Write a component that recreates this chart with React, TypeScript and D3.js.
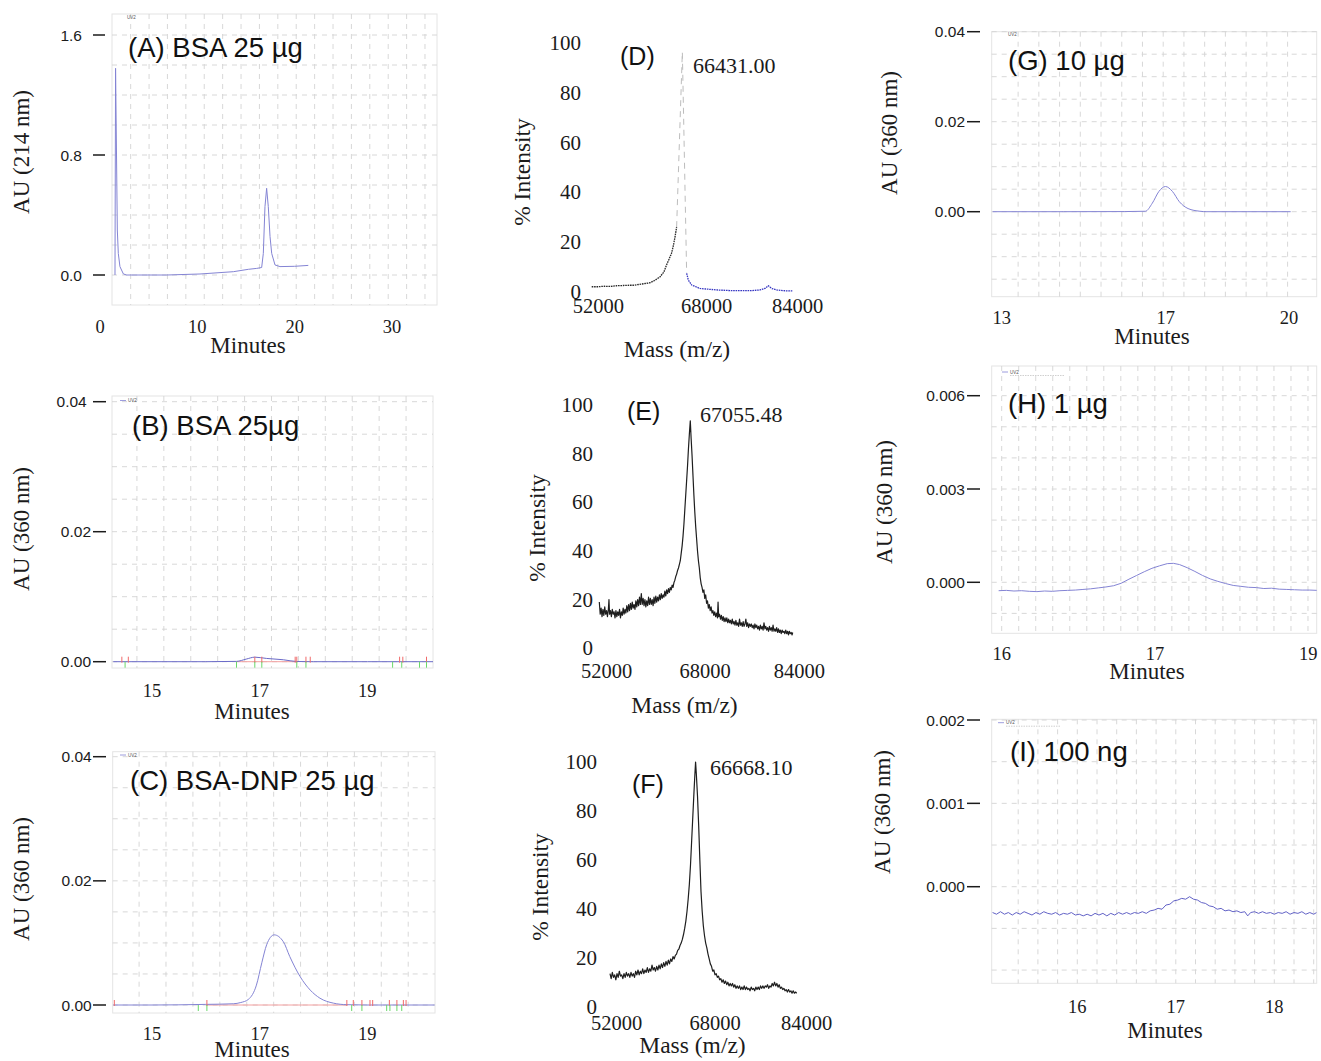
import React from "react";
import * as d3 from "d3";

type Pt = [number, number];

// ---------- HPLC chromatograms (minutes, AU) ----------
const traceA: Pt[] = [
  [1.54, 0], [1.6, 1.378], [1.68, 0.9], [1.78, 0.3], [1.88, 0.144], [2.05, 0.056], [2.4, 0.007], [2.74, 0],
  [4, 0], [6.85, 0], [10.27, 0.0067], [13.7, 0.022], [15.25, 0.038], [16.1, 0.044], [16.61, 0.05],
  [16.78, 0.144], [16.95, 0.456], [17.12, 0.578], [17.29, 0.456], [17.47, 0.256], [17.64, 0.144],
  [17.98, 0.067], [18.49, 0.056], [20, 0.058], [21.4, 0.064],
];

const traceB: Pt[] = [
  [14.28, 0], [15, 0], [16, 0], [16.57, 0.00005], [16.75, 0.0004], [16.91, 0.0007], [17.13, 0.0005],
  [17.44, 0.0003], [17.69, 0.00003], [18, 0], [19, 0], [20.22, 0],
];
const redB = [14.44, 14.56, 16.91, 17.04, 17.66, 17.69, 17.86, 17.94, 19.6, 19.66, 20.1];
const greenB = [14.5, 16.57, 16.91, 17.04, 17.69, 17.86, 19.47, 19.64, 19.97, 20.1];

const traceC: Pt[] = [
  [14.28, 0], [15, 0], [16, 0.0001], [16.51, 0.0002], [16.65, 0.0004], [16.79, 0.0009], [16.94, 0.0032],
  [17.04, 0.0068], [17.13, 0.0097], [17.27, 0.0113], [17.44, 0.0102], [17.56, 0.0078], [17.75, 0.0046],
  [17.94, 0.0024], [18.12, 0.0011], [18.37, 0.0003], [18.62, 0.00005], [19, 0], [20.25, 0],
];
const redC = [14.3, 16.02, 18.62, 18.74, 18.9, 19.05, 19.1, 19.41, 19.55, 19.67, 19.72];
const greenC = [15.86, 16.02, 18.71, 18.9, 19.36, 19.42, 19.55, 19.64];

const traceG: Pt[] = [
  [12.78, 0], [14.5, 0], [16.0, 0.00003], [16.5, 0.0001], [16.67, 0.0019], [16.83, 0.0045], [16.99, 0.0056],
  [17.16, 0.0045], [17.33, 0.0022], [17.54, 0.0007], [17.83, 0.0001], [18.0, 0], [19, 0], [20.04, 0],
];

const traceH: Pt[] = [
  [15.98, -0.00027], [16.03, -0.00026], [16.08, -0.00028], [16.13, -0.00027], [16.18, -0.00029],
  [16.23, -0.0003], [16.28, -0.00028], [16.33, -0.00029], [16.38, -0.00027], [16.43, -0.00026],
  [16.48, -0.00025], [16.53, -0.00023], [16.58, -0.00021], [16.63, -0.00018], [16.68, -0.00015],
  [16.73, -0.00011], [16.78, -0.00003], [16.83, 0.0001], [16.88, 0.00022], [16.93, 0.00034],
  [16.98, 0.00045], [17.03, 0.00053], [17.08, 0.0006], [17.12, 0.00061], [17.16, 0.00057],
  [17.21, 0.00047], [17.26, 0.00035], [17.31, 0.00022], [17.36, 0.00011], [17.41, 0.00003],
  [17.46, -0.00004], [17.51, -0.0001], [17.56, -0.00013], [17.61, -0.00016], [17.66, -0.00017],
  [17.71, -0.0002], [17.76, -0.00019], [17.81, -0.00022], [17.86, -0.00023], [17.91, -0.00024],
  [17.96, -0.00025], [18.01, -0.00025], [18.06, -0.00026],
];

const traceI: Pt[] = [
  [15.14, -0.00031], [15.18, -0.00033], [15.22, -0.0003], [15.26, -0.00033], [15.3, -0.00031],
  [15.34, -0.00034], [15.38, -0.00031], [15.42, -0.00033], [15.46, -0.0003], [15.5, -0.00032],
  [15.54, -0.00034], [15.58, -0.00031], [15.62, -0.00033], [15.66, -0.0003], [15.7, -0.00032],
  [15.74, -0.00033], [15.78, -0.00031], [15.82, -0.00034], [15.86, -0.00032], [15.9, -0.00033],
  [15.94, -0.00031], [15.98, -0.00034], [16.02, -0.00033], [16.06, -0.00035], [16.1, -0.00033],
  [16.14, -0.00035], [16.18, -0.00032], [16.22, -0.00034], [16.26, -0.00032], [16.3, -0.00035],
  [16.34, -0.00032], [16.38, -0.00034], [16.42, -0.00031], [16.46, -0.00033], [16.5, -0.00031],
  [16.54, -0.00033], [16.58, -0.00031], [16.62, -0.00032], [16.66, -0.0003], [16.7, -0.00032],
  [16.74, -0.00029], [16.78, -0.00028], [16.82, -0.00026], [16.86, -0.00027], [16.9, -0.00022],
  [16.94, -0.00021], [16.98, -0.00017], [17.02, -0.00016], [17.06, -0.00014], [17.1, -0.00015],
  [17.14, -0.00012], [17.18, -0.00015], [17.22, -0.00016], [17.26, -0.00019], [17.3, -0.0002],
  [17.34, -0.00023], [17.38, -0.00024], [17.42, -0.00027], [17.46, -0.00026], [17.5, -0.00029],
  [17.54, -0.00028], [17.58, -0.0003], [17.62, -0.00029], [17.66, -0.00031], [17.7, -0.0003],
  [17.73, -0.00035], [17.76, -0.00031], [17.8, -0.0003], [17.84, -0.00032], [17.88, -0.0003],
  [17.92, -0.00032], [17.96, -0.00031], [18.0, -0.00033], [18.04, -0.00031], [18.08, -0.00032],
  [18.12, -0.0003], [18.16, -0.00033], [18.2, -0.00031], [18.24, -0.00032], [18.28, -0.0003],
  [18.32, -0.00033], [18.36, -0.00031], [18.4, -0.00033], [18.43, -0.00031],
];

// ---------- MALDI spectra (m/z, % intensity) ----------
const specDLeft: Pt[] = [
  [52000, 2], [53000, 2], [54000, 2.2], [55000, 2.1], [56000, 2.4], [57000, 2.5], [58000, 2.6],
  [58600, 2.6], [59500, 2.9], [60500, 3.3], [61300, 3.6], [62000, 4.5], [62900, 6], [63500, 8],
  [63900, 10.7], [64300, 13], [64700, 15.4], [65000, 18.5], [65260, 22], [65520, 26],
];
const specDPeak: Pt[] = [[65520, 26], [66431.0, 96.5], [67116, 7.4]];
const specDRight: Pt[] = [
  [67116, 7.4], [67381, 4.7], [67912, 2.7], [69239, 1.3], [71892, 0.7], [74545, 0.4], [77198, 0.4],
  [78790, 0.7], [79586, 1.3], [80116, 2.4], [80647, 1.3], [81443, 0.7], [82504, 0.4], [83990, 0.3],
];

const specE: Pt[] = [
  [52000, 19], [52150, 14], [52300, 16.5], [52450, 13], [52600, 16], [52750, 13.5], [52900, 17], [53050, 14],
  [53200, 15.5], [53350, 13], [53500, 16], [53600, 20], [53700, 14], [53850, 15.5], [54000, 13], [54150, 16],
  [54300, 14], [54450, 15], [54600, 12.5], [54750, 15.5], [54900, 13], [55050, 15], [55200, 13.5], [55350, 16],
  [55500, 12.5], [55650, 15], [55800, 13.5], [55950, 16.5], [56100, 14], [56250, 16], [56400, 14.5], [56550, 17.5],
  [56700, 15], [56850, 18], [57000, 15.5], [57150, 18.5], [57300, 16], [57450, 19], [57600, 16.5], [57750, 18],
  [57900, 16], [58050, 19.5], [58200, 17], [58350, 20], [58500, 17.5], [58650, 21], [58800, 18], [58950, 22.5],
  [59100, 18], [59250, 20.5], [59400, 17.5], [59550, 20], [59700, 17], [59850, 19.5], [60000, 17.5], [60150, 21],
  [60300, 18], [60450, 20.5], [60600, 18], [60750, 20], [60900, 17.5], [61050, 21], [61200, 18.5], [61350, 21.5],
  [61500, 19], [61650, 21], [61800, 19.5], [61950, 22], [62100, 20], [62250, 22.5], [62400, 20.5], [62550, 22],
  [62700, 21], [62850, 23.5], [63000, 21.5], [63150, 24], [63300, 22.5], [63450, 24.5], [63600, 23], [63750, 25],
  [63900, 24], [64050, 26], [64200, 25], [64350, 27], [64500, 28], [64650, 29.5], [64800, 30.5], [64950, 32],
  [65100, 33], [65250, 34.5], [65400, 36], [65550, 39], [65700, 42], [65850, 46], [66000, 51], [66150, 57],
  [66300, 63], [66450, 69], [66600, 75], [66750, 82], [66900, 88], [67055.48, 93.5], [67200, 86], [67350, 79],
  [67500, 71], [67650, 63], [67800, 56], [67950, 50], [68100, 45], [68250, 40], [68400, 36], [68550, 33],
  [68700, 29], [68850, 26.5], [69000, 25], [69150, 23], [69300, 24], [69450, 20.5], [69600, 22], [69750, 18.5],
  [69900, 19.5], [70050, 16.5], [70200, 18], [70350, 15.5], [70500, 17], [70650, 14.5], [70800, 15.5], [70950, 13.5],
  [71100, 15], [71250, 13], [71400, 14.5], [71550, 12.5], [71650, 19], [71750, 13], [71900, 14], [72050, 12],
  [72200, 13.5], [72350, 11.5], [72500, 13], [72650, 11], [72800, 12.5], [72950, 11], [73100, 12.5], [73250, 10.5],
  [73400, 12], [73550, 10.5], [73700, 11.5], [73850, 10], [74000, 12], [74150, 10], [74300, 11], [74450, 9.5],
  [74600, 11.5], [74750, 9.5], [74900, 10.5], [75050, 9], [75200, 12], [75350, 9.5], [75500, 10.5], [75650, 9],
  [75800, 11], [75950, 9], [76100, 10], [76250, 12], [76400, 9], [76550, 10.5], [76700, 8.5], [76850, 10],
  [77000, 9], [77150, 10], [77300, 8.5], [77450, 9.5], [77600, 8], [77750, 10], [77900, 8.5], [78050, 9.5],
  [78200, 8], [78350, 9], [78500, 7.5], [78650, 9.5], [78800, 8], [78950, 9], [79100, 7.5], [79250, 10.5],
  [79400, 8], [79550, 9], [79700, 7.5], [79850, 8.5], [80000, 7], [80150, 9], [80300, 7.5], [80450, 8.5],
  [80600, 7], [80750, 9.5], [80900, 7], [81050, 8], [81200, 7], [81350, 8.5], [81500, 6.5], [81650, 8],
  [81800, 6.5], [81950, 7.5], [82100, 6], [82250, 7.5], [82400, 6.5], [82550, 7], [82700, 6], [82850, 7.5],
  [83000, 6], [83150, 7], [83300, 5.5], [83450, 7], [83600, 6], [83750, 6.5], [83900, 5.5], [84000, 6.5],
];

const specF: Pt[] = [
  [52000, 13.5], [52200, 11.5], [52400, 14], [52600, 12], [52800, 13], [53000, 11], [53200, 13.5], [53400, 12],
  [53600, 14.5], [53800, 12.5], [54000, 13], [54200, 11.5], [54400, 13.5], [54600, 12], [54800, 14], [55000, 12.5],
  [55200, 13.5], [55400, 12], [55600, 14], [55800, 12.5], [56000, 13.5], [56200, 12], [56400, 14.5], [56600, 13],
  [56800, 15], [57000, 13], [57200, 14.5], [57400, 13.5], [57600, 15.5], [57800, 13.5], [58000, 15], [58200, 14],
  [58400, 16], [58600, 14], [58800, 15.5], [59000, 14.5], [59200, 17], [59400, 15], [59600, 16], [59800, 14.5],
  [60000, 16.5], [60200, 15], [60400, 17], [60600, 15.5], [60800, 17.5], [61000, 16], [61200, 18], [61400, 16.5],
  [61600, 18.5], [61800, 17], [62000, 19], [62200, 17.5], [62400, 19.5], [62600, 18.5], [62800, 20.5], [63000, 19.5],
  [63200, 21], [63400, 21.5], [63600, 23], [63800, 23.5], [64000, 25], [64200, 26], [64400, 27.5], [64600, 29.5],
  [64800, 32], [65000, 35], [65200, 39], [65400, 44], [65600, 50], [65800, 58], [66000, 68], [66200, 78],
  [66400, 88], [66550, 95], [66668.1, 100], [66800, 95], [67000, 86], [67200, 74], [67400, 60], [67600, 47],
  [67800, 39], [68000, 33], [68200, 29], [68400, 26], [68600, 24], [68800, 21.5], [69000, 19.5], [69200, 17.5],
  [69400, 16.5], [69600, 14.5], [69800, 15], [70000, 13], [70200, 13.5], [70400, 12], [70600, 12.5], [70800, 11],
  [71000, 11.5], [71200, 10], [71400, 11], [71600, 9.5], [71800, 10.5], [72000, 9], [72200, 10], [72400, 8.5],
  [72600, 9.5], [72800, 8.5], [73000, 9.5], [73200, 8], [73400, 9], [73600, 7.5], [73800, 8.5], [74000, 7.5],
  [74200, 8.5], [74400, 7], [74600, 8], [74800, 7], [75000, 8.5], [75200, 7], [75400, 8], [75600, 7],
  [75800, 7.5], [76000, 6.5], [76200, 8], [76400, 7], [76600, 7.5], [76800, 6.5], [77000, 8], [77200, 7],
  [77400, 8], [77600, 7], [77800, 8.5], [78000, 7.5], [78200, 8.5], [78400, 7.5], [78600, 8.5], [78800, 8],
  [79000, 9], [79200, 7.5], [79400, 8.5], [79600, 8], [79800, 9.5], [80000, 8.5], [80200, 10], [80400, 8.5],
  [80600, 9.5], [80800, 8], [81000, 9], [81200, 7.5], [81400, 8], [81600, 7], [81800, 7.5], [82000, 6.5],
  [82200, 7], [82400, 6], [82600, 7], [82800, 6], [83000, 6.5], [83200, 5.5], [83400, 6.5], [83600, 5.5],
  [83800, 6], [84000, 5.5],
];

// ---------- tick labels ----------
const ticksA = [0, 0.8, 1.6];
const labelsA = ["0.0", "0.8", "1.6"];
const ticksBC = [0, 0.02, 0.04];
const labelsB = ["0.00", "0.02", "0.04\u00a0"];
const labelsC = ["0.00", "0.02", "0.04"];
const ticksG = [0, 0.02, 0.04];
const labelsG = ["0.00", "0.02", "0.04"];
const ticksH = [0, 0.003, 0.006];
const labelsH = ["0.000", "0.003", "0.006"];
const ticksI = [0, 0.001, 0.002];
const labelsI = ["0.000", "0.001", "0.002"];

const minA = [0, 10, 20, 30];
const minBC = [15, 17, 19];
const minG = [13, 17, 20];
const minH = [16, 17, 18];
const minHLabels = ["16", "17", "19"];
const minI = [16, 17, 18];

const massTicks = [52000, 68000, 84000];
const pctTicks = [0, 20, 40, 60, 80, 100];

const SERIF = "'Liberation Serif','Times New Roman',Times,serif";
const SANS = "'Liberation Sans',Arial,Helvetica,sans-serif";
const INK = "#1b1b1b";
const GRID = "#d4d4d4";
const UV = "#8484d4";

interface Trace { data: Pt[]; color: string; width?: number; linear?: boolean; dash?: string }

interface ChromProps {
  id: string;
  frame: { l: number; r: number; t: number; b: number };
  xDomain: number[]; xRange: number[];
  yDomain: number[]; yRange: number[];
  yTicks: number[]; yLabels: string[]; yLabelRight: number; dash: [number, number];
  xTicks: number[]; xLabels: string[]; xLabelBase: number;
  gridX: number[]; gridY: number[];
  title: string; titleX: number; titleY: number;
  yTitle: string; yTitleX: number; yTitleY: number;
  xTitleX: number; xTitleY: number;
  traces: Trace[];
  red?: number[]; green?: number[]; integ?: [number, number];
  legend?: { x: number; y: number; line: boolean; note: boolean };
}

function Chrom(p: ChromProps) {
  const x = d3.scaleLinear().domain(p.xDomain).range(p.xRange);
  const y = d3.scaleLinear().domain(p.yDomain).range(p.yRange);
  const f = p.frame;
  const y0 = y(0);
  return (
    <g>
      <defs>
        <clipPath id={p.id}>
          <rect x={f.l} y={f.t} width={f.r - f.l} height={f.b - f.t} />
        </clipPath>
      </defs>
      <rect x={f.l} y={f.t} width={f.r - f.l} height={f.b - f.t} fill="none" stroke="#e4e4e4" strokeWidth={1} />
      {p.gridY.map((v, i) => (
        <line key={"gy" + i} x1={f.l} x2={f.r} y1={y(v)} y2={y(v)} stroke={GRID} strokeWidth={0.9} strokeDasharray="5,5" />
      ))}
      {p.gridX.map((v, i) => (
        <line key={"gx" + i} x1={x(v)} x2={x(v)} y1={f.t} y2={f.b} stroke={GRID} strokeWidth={0.9} strokeDasharray="5,5" />
      ))}
      {p.legend && (
        <g>
          {p.legend.line && <line x1={p.legend.x} x2={p.legend.x + 6} y1={p.legend.y} y2={p.legend.y} stroke={UV} strokeWidth={0.8} />}
          <text x={p.legend.x + (p.legend.line ? 8 : 0)} y={p.legend.y + 1.5} fontFamily={SANS} fontSize={4.5} fill="#555">UV2</text>
          {p.legend.note && <line x1={p.legend.x + 8} x2={p.legend.x + 62} y1={p.legend.y + 3.5} y2={p.legend.y + 3.5} stroke="#bbb" strokeWidth={0.7} strokeDasharray="1.5,1" />}
        </g>
      )}
      <g clipPath={`url(#${p.id})`}>
        {p.integ && (
          <line x1={x(p.integ[0])} x2={x(p.integ[1])} y1={y0} y2={y0} stroke="#f4a0a0" strokeWidth={1} />
        )}
        {p.traces.map((t, i) => {
          const gen = d3.line<Pt>().x((d) => x(d[0])).y((d) => y(d[1]))
            .curve(t.linear ? d3.curveLinear : d3.curveMonotoneX);
          return <path key={i} d={gen(t.data) || ""} fill="none" stroke={t.color} strokeWidth={t.width ?? 1} strokeDasharray={t.dash} strokeLinejoin="round" />;
        })}
        {(p.red || []).map((v, i) => (
          <line key={"r" + i} x1={x(v)} x2={x(v)} y1={y0 - 5} y2={y0 + 1} stroke="#f06a6a" strokeWidth={1} />
        ))}
        {(p.green || []).map((v, i) => (
          <line key={"g" + i} x1={x(v)} x2={x(v)} y1={y0} y2={y0 + 6} stroke="#6ad86a" strokeWidth={1} />
        ))}
      </g>
      {p.yTicks.map((v, i) => (
        <g key={"yt" + i}>
          <line x1={p.dash[0]} x2={p.dash[1]} y1={y(v)} y2={y(v)} stroke={INK} strokeWidth={1.5} />
          <text x={p.yLabelRight} y={y(v) + 5.5} textAnchor="end" fontFamily={SANS} fontSize={15.5} fill={INK}>{p.yLabels[i]}</text>
        </g>
      ))}
      {p.xTicks.map((v, i) => (
        <text key={"xt" + i} x={x(v)} y={p.xLabelBase} textAnchor="middle" fontFamily={SERIF} fontSize={18.5} fill={INK}>{p.xLabels[i]}</text>
      ))}
      <text x={p.xTitleX} y={p.xTitleY} textAnchor="middle" fontFamily={SERIF} fontSize={23} fill={INK}>Minutes</text>
      <text transform={`translate(${p.yTitleX},${p.yTitleY}) rotate(-90)`} textAnchor="middle" fontFamily={SERIF} fontSize={23} fill={INK}>{p.yTitle}</text>
      <text x={p.titleX} y={p.titleY} fontFamily={SANS} fontSize={27.5} fill="#111">{p.title}</text>
    </g>
  );
}

interface SpecProps {
  xRange: number[]; labelRange: number[]; yRange: number[];
  yLabelRight: number; xLabelBase: number;
  xTitleX: number; xTitleY: number; yTitleX: number; yTitleY: number;
  tag: string; tagX: number; tagY: number;
  mass: string; massX: number; massY: number;
  traces: Trace[];
}

function Spectrum(p: SpecProps) {
  const x = d3.scaleLinear().domain([52000, 84000]).range(p.xRange);
  const xl = d3.scaleLinear().domain(massTicks).range(p.labelRange);
  const y = d3.scaleLinear().domain([0, 100]).range(p.yRange);
  return (
    <g>
      {p.traces.map((t, i) => {
        const gen = d3.line<Pt>().x((d) => x(d[0])).y((d) => y(d[1])).curve(d3.curveLinear);
        return <path key={i} d={gen(t.data) || ""} fill="none" stroke={t.color} strokeWidth={t.width ?? 1} strokeDasharray={t.dash} strokeLinejoin="round" />;
      })}
      {pctTicks.map((v) => (
        <text key={"p" + v} x={p.yLabelRight} y={y(v) + 7} textAnchor="end" fontFamily={SERIF} fontSize={21} fill={INK}>{v}</text>
      ))}
      {massTicks.map((v) => (
        <text key={"m" + v} x={xl(v)} y={p.xLabelBase} textAnchor="middle" fontFamily={SERIF} fontSize={20.5} fill={INK}>{v}</text>
      ))}
      <text x={p.xTitleX} y={p.xTitleY} textAnchor="middle" fontFamily={SERIF} fontSize={23.5} fill={INK}>Mass (m/z)</text>
      <text transform={`translate(${p.yTitleX},${p.yTitleY}) rotate(-90)`} textAnchor="middle" fontFamily={SERIF} fontSize={23.5} fill={INK}>% Intensity</text>
      <text x={p.tagX} y={p.tagY} fontFamily={SANS} fontSize={25} fill="#111">{p.tag}</text>
      <text x={p.massX} y={p.massY} fontFamily={SERIF} fontSize={22} fill={INK}>{p.mass}</text>
    </g>
  );
}

export default function App() {
  return (
    <div style={{ position: "absolute", left: 0, top: 0 }}>
      <svg width={1321} height={1061} style={{ display: "block", background: "#fff" }}>
        {/* (A) BSA at 214 nm */}
        <Chrom
          id="clipA" frame={{ l: 112, r: 437, t: 14, b: 305 }}
          xDomain={[0, 30]} xRange={[100, 392]} yDomain={[0, 1.6]} yRange={[275, 35]}
          yTicks={ticksA} yLabels={labelsA} yLabelRight={82} dash={[93, 105]}
          xTicks={minA} xLabels={minA.map(String)} xLabelBase={333}
          gridX={d3.range(3.15, 34.8, 1.89)} gridY={d3.range(0, 1.61, 0.2)}
          title="(A) BSA 25 µg" titleX={128} titleY={57}
          yTitle="AU (214 nm)" yTitleX={29} yTitleY={152}
          xTitleX={248} xTitleY={353}
          traces={[{ data: traceA, color: UV, linear: true }]}
          legend={{ x: 127, y: 17, line: false, note: false }}
        />
        {/* (B) BSA at 360 nm */}
        <Chrom
          id="clipB" frame={{ l: 112, r: 433, t: 396, b: 668 }}
          xDomain={[15, 19]} xRange={[152, 367.3]} yDomain={[0, 0.04]} yRange={[661.7, 401.7]}
          yTicks={ticksBC} yLabels={labelsB} yLabelRight={91} dash={[93, 106]}
          xTicks={minBC} xLabels={minBC.map(String)} xLabelBase={697}
          gridX={d3.range(14.72, 20.2, 0.5)} gridY={d3.range(0, 0.0401, 0.005)}
          title="(B) BSA 25µg" titleX={132} titleY={435}
          yTitle="AU (360 nm)" yTitleX={29} yTitleY={529}
          xTitleX={252} xTitleY={719}
          traces={[{ data: traceB, color: "#6a6ac8", width: 1 }]}
          red={redB} green={greenB} integ={[16.57, 17.69]}
          legend={{ x: 120, y: 400.5, line: true, note: false }}
        />
        {/* (C) BSA-DNP at 360 nm */}
        <Chrom
          id="clipC" frame={{ l: 112.7, r: 435, t: 751.7, b: 1013 }}
          xDomain={[15, 19]} xRange={[152, 367.3]} yDomain={[0, 0.04]} yRange={[1005, 756.7]}
          yTicks={ticksBC} yLabels={labelsC} yLabelRight={91.7} dash={[93, 106]}
          xTicks={minBC} xLabels={minBC.map(String)} xLabelBase={1040}
          gridX={d3.range(14.76, 20.25, 0.5)} gridY={d3.range(0, 0.0401, 0.005)}
          title="(C) BSA-DNP 25 µg" titleX={130} titleY={790}
          yTitle="AU (360 nm)" yTitleX={29} yTitleY={879}
          xTitleX={252} xTitleY={1057}
          traces={[{ data: traceC, color: UV }]}
          red={redC} green={greenC} integ={[16.02, 18.62]}
          legend={{ x: 120, y: 755, line: true, note: false }}
        />

        {/* (D) BSA MALDI */}
        <Spectrum
          xRange={[591.7, 792.7]} labelRange={[598.3, 706.7, 797.7]} yRange={[291.7, 43.3]}
          yLabelRight={581} xLabelBase={313}
          xTitleX={677} xTitleY={357} yTitleX={530} yTitleY={172}
          tag="(D)" tagX={620} tagY={65} mass="66431.00" massX={693} massY={73}
          traces={[
            { data: specDLeft, color: "#2a2a2a", width: 1.3, dash: "1.6,0.8" },
            { data: specDPeak, color: "#bdbdbd", width: 1, dash: "6,5" },
            { data: specDRight, color: "#3636c2", width: 1.3, dash: "1.6,0.8" },
          ]}
        />
        {/* (E) BSA-DNP MALDI */}
        <Spectrum
          xRange={[599.3, 792.7]} labelRange={[606.7, 705, 799.3]} yRange={[648.3, 405]}
          yLabelRight={593} xLabelBase={678}
          xTitleX={684.5} xTitleY={713} yTitleX={545} yTitleY={528}
          tag="(E)" tagX={627} tagY={420} mass="67055.48" massX={700} massY={421.5}
          traces={[{ data: specE, color: "#1e1e1e", width: 1.2 }]}
        />
        {/* (F) BSA-DNP MALDI */}
        <Spectrum
          xRange={[610, 796.7]} labelRange={[616.7, 715, 806.7]} yRange={[1006.7, 762]}
          yLabelRight={597} xLabelBase={1030}
          xTitleX={692.5} xTitleY={1053} yTitleX={548} yTitleY={887}
          tag="(F)" tagX={632} tagY={793} mass="66668.10" massX={710} massY={775}
          traces={[{ data: specF, color: "#1e1e1e", width: 1.2 }]}
        />

        {/* (G) 10 µg */}
        <Chrom
          id="clipG" frame={{ l: 991.7, r: 1316.7, t: 31.7, b: 296.7 }}
          xDomain={[13, 20]} xRange={[1001.7, 1289]} yDomain={[0, 0.02]} yRange={[211.7, 121.7]}
          yTicks={ticksG} yLabels={labelsG} yLabelRight={965} dash={[967, 980]}
          xTicks={minG} xLabels={minG.map(String)} xLabelBase={324}
          gridX={d3.range(13.4, 20.3, 0.505)} gridY={d3.range(-0.015, 0.0401, 0.005)}
          title="(G) 10 µg" titleX={1008} titleY={70}
          yTitle="AU (360 nm)" yTitleX={897} yTitleY={133}
          xTitleX={1152} xTitleY={344}
          traces={[{ data: traceG, color: UV }]}
          legend={{ x: 1008, y: 34, line: false, note: false }}
        />
        {/* (H) 1 µg */}
        <Chrom
          id="clipH" frame={{ l: 991.7, r: 1316.7, t: 366, b: 633.3 }}
          xDomain={[16, 18]} xRange={[1001.7, 1308.3]} yDomain={[0, 0.003]} yRange={[582.3, 489]}
          yTicks={ticksH} yLabels={labelsH} yLabelRight={965} dash={[967, 980]}
          xTicks={minH} xLabels={minHLabels} xLabelBase={660}
          gridX={d3.range(16.0, 18.06, 0.111)} gridY={d3.range(-0.001, 0.00601, 0.001)}
          title="(H) 1 µg" titleX={1008} titleY={413}
          yTitle="AU (360 nm)" yTitleX={892} yTitleY={502}
          xTitleX={1147} xTitleY={679}
          traces={[{ data: traceH, color: UV, linear: true }]}
          legend={{ x: 1002, y: 372, line: true, note: true }}
        />
        {/* (I) 100 ng */}
        <Chrom
          id="clipI" frame={{ l: 991.7, r: 1316.7, t: 719.3, b: 983.3 }}
          xDomain={[16, 18]} xRange={[1077.3, 1274.3]} yDomain={[0, 0.002]} yRange={[886.7, 720]}
          yTicks={ticksI} yLabels={labelsI} yLabelRight={965} dash={[967, 980]}
          xTicks={minI} xLabels={minI.map(String)} xLabelBase={1013}
          gridX={d3.range(15.4, 18.44, 0.2)} gridY={d3.range(-0.001, 0.00201, 0.0005)}
          title="(I) 100 ng" titleX={1010} titleY={761}
          yTitle="AU (360 nm)" yTitleX={890} yTitleY={812}
          xTitleX={1165} xTitleY={1038}
          traces={[{ data: traceI, color: "#6262c6", linear: true }]}
          legend={{ x: 998, y: 722.7, line: true, note: true }}
        />
      </svg>
    </div>
  );
}
